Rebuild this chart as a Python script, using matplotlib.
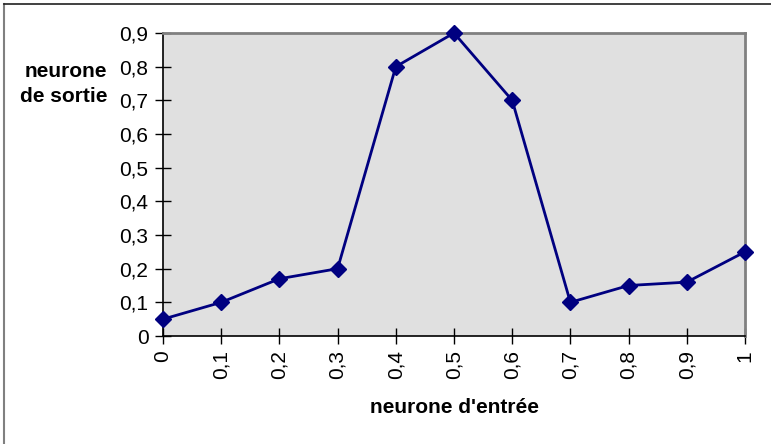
import matplotlib.pyplot as plt
from matplotlib.lines import Line2D

INPUT_VALUES = [0, 0.1, 0.2, 0.3, 0.4, 0.5, 0.6, 0.7, 0.8, 0.9, 1]
INPUT_LABELS = ["0", "0,1", "0,2", "0,3", "0,4", "0,5", "0,6", "0,7", "0,8", "0,9", "1"]
OUTPUT_VALUES = [0.05, 0.1, 0.17, 0.2, 0.8, 0.9, 0.7, 0.1, 0.15, 0.16, 0.25]
Y_TICKS = [0, 0.1, 0.2, 0.3, 0.4, 0.5, 0.6, 0.7, 0.8, 0.9]
Y_LABELS = ["0", "0,1", "0,2", "0,3", "0,4", "0,5", "0,6", "0,7", "0,8", "0,9"]

NAVY = "#000080"
PLOT_BG = "#e0e0e0"
FRAME_GRAY = "#808080"
W, H = 771, 444
FS = 15

plt.rcParams.update({"font.family": ["Liberation Sans", "DejaVu Sans"]})

fig = plt.figure(figsize=(W / 100, H / 100), dpi=100, facecolor="white")

# outer chart frame (only left and top edges are visible)
fig.add_artist(Line2D([4 / W, 4 / W], [0, 1 - 4 / H], color=FRAME_GRAY, lw=1.5))
fig.add_artist(Line2D([4 / W, 1], [1 - 4 / H, 1 - 4 / H], color="#202020", lw=1.2))

left, right, top, bottom = 163 / W, 745 / W, 1 - 33 / H, 1 - 336 / H
ax = fig.add_axes([left, bottom, right - left, top - bottom])
ax.set_facecolor(PLOT_BG)

ax.plot(INPUT_VALUES, OUTPUT_VALUES, color=NAVY, lw=2, marker="D",
        markersize=8, markerfacecolor=NAVY, markeredgecolor=NAVY, clip_on=False, zorder=3)

ax.set_xlim(0, 1)
ax.set_ylim(0, 0.9)
ax.set_xticks(INPUT_VALUES)
ax.set_xticklabels(INPUT_LABELS, rotation=90, fontsize=FS)
ax.set_yticks(Y_TICKS)
ax.set_yticklabels(Y_LABELS, fontsize=FS)
ax.tick_params(axis="y", direction="inout", length=11, width=1, pad=5)
ax.tick_params(axis="x", direction="inout", length=12, width=1, pad=4)

for side in ["left", "bottom"]:
  ax.spines[side].set_color("black")
  ax.spines[side].set_linewidth(1.2)
for side in ["top", "right"]:
  ax.spines[side].set_color(FRAME_GRAY)
  ax.spines[side].set_linewidth(2)

fig.text(107 / W, 1 - 84 / H, "neurone\nde sortie", ha="right", va="center",
         fontsize=FS, fontweight="bold", linespacing=1.45)
fig.text(454 / W, 1 - 407 / H, "neurone d'entrée", ha="center", va="center",
         fontsize=FS, fontweight="bold")

fig.savefig("out.png", dpi=100, facecolor="white")
